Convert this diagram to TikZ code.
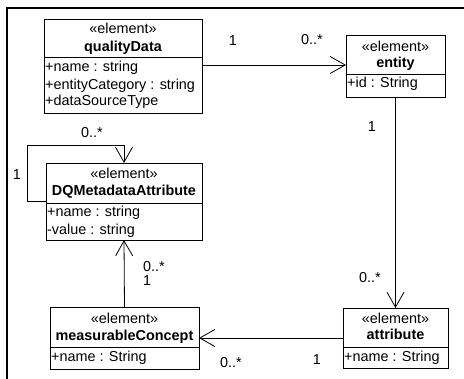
\documentclass[tikz,border=0pt]{standalone}
\usepackage{fontspec}
\setmainfont{Liberation Sans}
\usetikzlibrary{arrows.meta}
\begin{document}
\begin{tikzpicture}[x=1pt,y=-1pt,
  every node/.style={font=\fontsize{14.4}{17}\selectfont},
  cls/.style={draw, line width=0.9pt, anchor=north west, inner sep=0pt, outer sep=0pt},
  hdr/.style={inner sep=0pt, anchor=base},
  att/.style={inner sep=0pt, anchor=base west},
  lbl/.style={inner sep=0pt, anchor=base},
  sep/.style={line width=0.9pt},
  assoc/.style={draw, line width=0.8pt, -{Straight Barb[length=15pt,width=17pt,line width=0.8pt]}},
  frame/.style={line width=1.2pt}]
\useasboundingbox (0,0) rectangle (464,379);
\draw[frame] (7,379) -- (7,8) -- (464,8);

% qualityData
\node[cls, minimum width=158pt, minimum height=94pt] (qD) at (44,19) {};
\node[hdr] (qDs) at (123,34) {«element»};
\node[hdr] (qDn) at (123,52) {\bfseries qualityData};
\draw[sep] (qD.west |- 0,57) -- (qD.east |- 0,57);
\node[att] (qDa1) at (45,72) {+name : string};
\node[att] (qDa2) at (45,90) {+entityCategory : string};
\node[att] (qDa3) at (45,106) {+dataSourceType};

% entity
\node[cls, minimum width=99pt, minimum height=62pt] (ent) at (346,35) {};
\node[hdr] (ents) at (395.5,52) {«element»};
\node[hdr] (entn) at (395.5,68) {\bfseries entity};
\draw[sep] (ent.west |- 0,74) -- (ent.east |- 0,74);
\node[att] (enta1) at (347,88) {+id : String};

% DQMetadataAttribute
\node[cls, minimum width=156pt, minimum height=77pt] (dq) at (46,163) {};
\node[hdr] (dqs) at (124,179) {«element»};
\node[hdr] (dqn) at (124,196) {\bfseries DQMetadataAttribute};
\draw[sep] (dq.west |- 0,203) -- (dq.east |- 0,203);
\node[att] (dqa1) at (47,217) {+name : string};
\node[att] (dqa2) at (47,235) {-value : string};

% measurableConcept
\node[cls, minimum width=149pt, minimum height=62pt] (mc) at (50,307) {};
\node[hdr] (mcs) at (124.5,324) {«element»};
\node[hdr] (mcn) at (124.5,341) {\bfseries measurableConcept};
\draw[sep] (mc.west |- 0,347) -- (mc.east |- 0,347);
\node[att] (mca1) at (51,362) {+name : String};

% attribute
\node[cls, minimum width=105pt, minimum height=60pt] (at) at (343,308) {};
\node[hdr] (ats) at (395.5,324) {«element»};
\node[hdr] (atn) at (395.5,340) {\bfseries attribute};
\draw[sep] (at.west |- 0,347) -- (at.east |- 0,347);
\node[att] (ata1) at (344,362) {+name : String};

% associations
\draw[assoc] (qD.east |- 0,65) -- (ent.west |- 0,65);
\draw[assoc] (ent.south) -- (at.north);
\draw[assoc] (at.west |- 0,338) -- (mc.east |- 0,338);
\draw[assoc] (mc.north) -- (dq.south);
\draw[assoc] (dq.west |- 0,201) -| (27,145) -| (dq.north);

% multiplicities
\node[lbl] (l1) at (233,46) {1};
\node[lbl] (l2) at (312,45) {0..*};
\node[lbl] (l3) at (372,132) {1};
\node[lbl] (l4) at (370,283) {0..*};
\node[lbl] (l5) at (231,368) {0..*};
\node[lbl] (l6) at (317,365) {1};
\node[lbl, anchor=base west] (l7) at (143,272) {0..*};
\node[lbl, anchor=base west] (l8) at (143,286) {1};
\node[lbl] (l9) at (92,138) {0..*};
\node[lbl] (l10) at (17,180) {1};
\end{tikzpicture}
\end{document}
